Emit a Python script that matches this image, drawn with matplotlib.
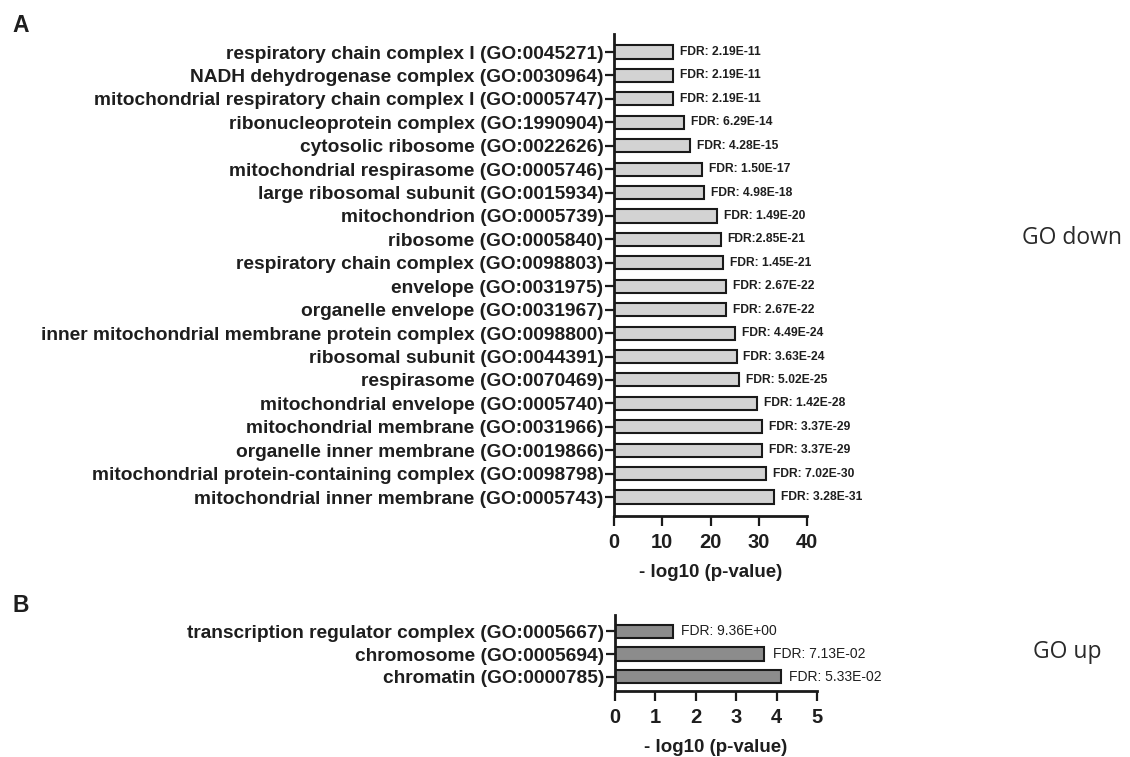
import matplotlib.pyplot as plt

plt.rcParams["font.family"] = ["Liberation Sans", "DejaVu Sans"]

# panel A: GO terms down
down_terms = [
    "respiratory chain complex I (GO:0045271)",
    "NADH dehydrogenase complex (GO:0030964)",
    "mitochondrial respiratory chain complex I (GO:0005747)",
    "ribonucleoprotein complex (GO:1990904)",
    "cytosolic ribosome (GO:0022626)",
    "mitochondrial respirasome (GO:0005746)",
    "large ribosomal subunit (GO:0015934)",
    "mitochondrion (GO:0005739)",
    "ribosome (GO:0005840)",
    "respiratory chain complex (GO:0098803)",
    "envelope (GO:0031975)",
    "organelle envelope (GO:0031967)",
    "inner mitochondrial membrane protein complex (GO:0098800)",
    "ribosomal subunit (GO:0044391)",
    "respirasome (GO:0070469)",
    "mitochondrial envelope (GO:0005740)",
    "mitochondrial membrane (GO:0031966)",
    "organelle inner membrane (GO:0019866)",
    "mitochondrial protein-containing complex (GO:0098798)",
    "mitochondrial inner membrane (GO:0005743)",
]
down_values = [12.2, 12.2, 12.2, 14.5, 15.8, 18.2, 18.7, 21.4, 22.1, 22.5,
               23.2, 23.2, 25.1, 25.4, 26.0, 29.7, 30.6, 30.6, 31.5, 33.2]
down_fdr = ["FDR: 2.19E-11", "FDR: 2.19E-11", "FDR: 2.19E-11", "FDR: 6.29E-14",
            "FDR: 4.28E-15", "FDR: 1.50E-17", "FDR: 4.98E-18", "FDR: 1.49E-20",
            "FDR:2.85E-21", "FDR: 1.45E-21", "FDR: 2.67E-22", "FDR: 2.67E-22",
            "FDR: 4.49E-24", "FDR: 3.63E-24", "FDR: 5.02E-25", "FDR: 1.42E-28",
            "FDR: 3.37E-29", "FDR: 3.37E-29", "FDR: 7.02E-30", "FDR: 3.28E-31"]
down_ticks = [0, 10, 20, 30, 40]

# panel B: GO terms up
up_terms = [
    "transcription regulator complex (GO:0005667)",
    "chromosome (GO:0005694)",
    "chromatin (GO:0000785)",
]
up_values = [1.43, 3.70, 4.10]
up_fdr = ["FDR: 9.36E+00", "FDR: 7.13E-02", "FDR: 5.33E-02"]
up_ticks = [0, 1, 2, 3, 4, 5]

W, H = 1130, 757
TXT = "#1e1e1e"


def px_axes(fig, left, top, right, bottom):
    return fig.add_axes([left / W, 1 - bottom / H, (right - left) / W, (bottom - top) / H])


def style_axes(ax, ticks):
    for side in ["top", "right"]:
        ax.spines[side].set_visible(False)
    for side in ["left", "bottom"]:
        ax.spines[side].set_linewidth(2)
        ax.spines[side].set_color("#1a1a1a")
    ax.set_xlim(ticks[0], ticks[-1])
    ax.set_xticks(ticks)
    ax.tick_params(axis="both", direction="out", width=1.6,
                   color="#1a1a1a", labelcolor=TXT)
    ax.tick_params(axis="x", labelsize=14.5, length=7, pad=5)
    ax.tick_params(axis="y", labelsize=13.8, length=6.5, pad=1)
    for lab in ax.get_xticklabels() + ax.get_yticklabels():
        lab.set_fontweight("bold")
    ax.set_xlabel("- log10 (p-value)", fontsize=13.5, fontweight="bold", color=TXT, labelpad=9)


fig = plt.figure(figsize=(W / 100, H / 100), dpi=100)

# panel A
axA = px_axes(fig, 614, 34, 807, 516)
ya = list(range(len(down_terms)))
axA.barh(ya, down_values, height=0.56, color="#d3d3d3", edgecolor="#1a1a1a", linewidth=1.5)
axA.set_yticks(ya)
axA.set_yticklabels(down_terms)
axA.set_ylim(19.81, -0.77)
style_axes(axA, down_ticks)
for y, v, t in zip(ya, down_values, down_fdr):
    axA.annotate(t, (v, y), xytext=(5, 0), textcoords="offset points",
                 va="center", ha="left", fontsize=8.7, fontweight="bold", color=TXT)

# panel B
axB = px_axes(fig, 615, 615, 817, 691)
yb = list(range(len(up_terms)))
axB.barh(yb, up_values, height=0.58, color="#8c8c8c", edgecolor="#1a1a1a", linewidth=1.5)
axB.set_yticks(yb)
axB.set_yticklabels(up_terms)
axB.set_ylim(2.64, -0.73)
style_axes(axB, up_ticks)
for y, v, t in zip(yb, up_values, up_fdr):
    axB.annotate(t, (v, y), xytext=(6, 0), textcoords="offset points",
                 va="center", ha="left", fontsize=10, color=TXT)

fig.text(12 / W, 1 - 25 / H, "A", fontsize=16.5, fontweight="bold", color=TXT, va="center")
fig.text(12 / W, 1 - 606 / H, "B", fontsize=16.5, fontweight="bold", color=TXT, va="center")
fig.text(1022 / W, 1 - 238 / H, "GO down", fontsize=16.5, family="Open Sans",
         color="#2a2a2a", va="center")
fig.text(1033 / W, 1 - 652 / H, "GO up", fontsize=16.5, family="Open Sans",
         color="#2a2a2a", va="center")

fig.savefig("out.png", dpi=100, facecolor="white")
